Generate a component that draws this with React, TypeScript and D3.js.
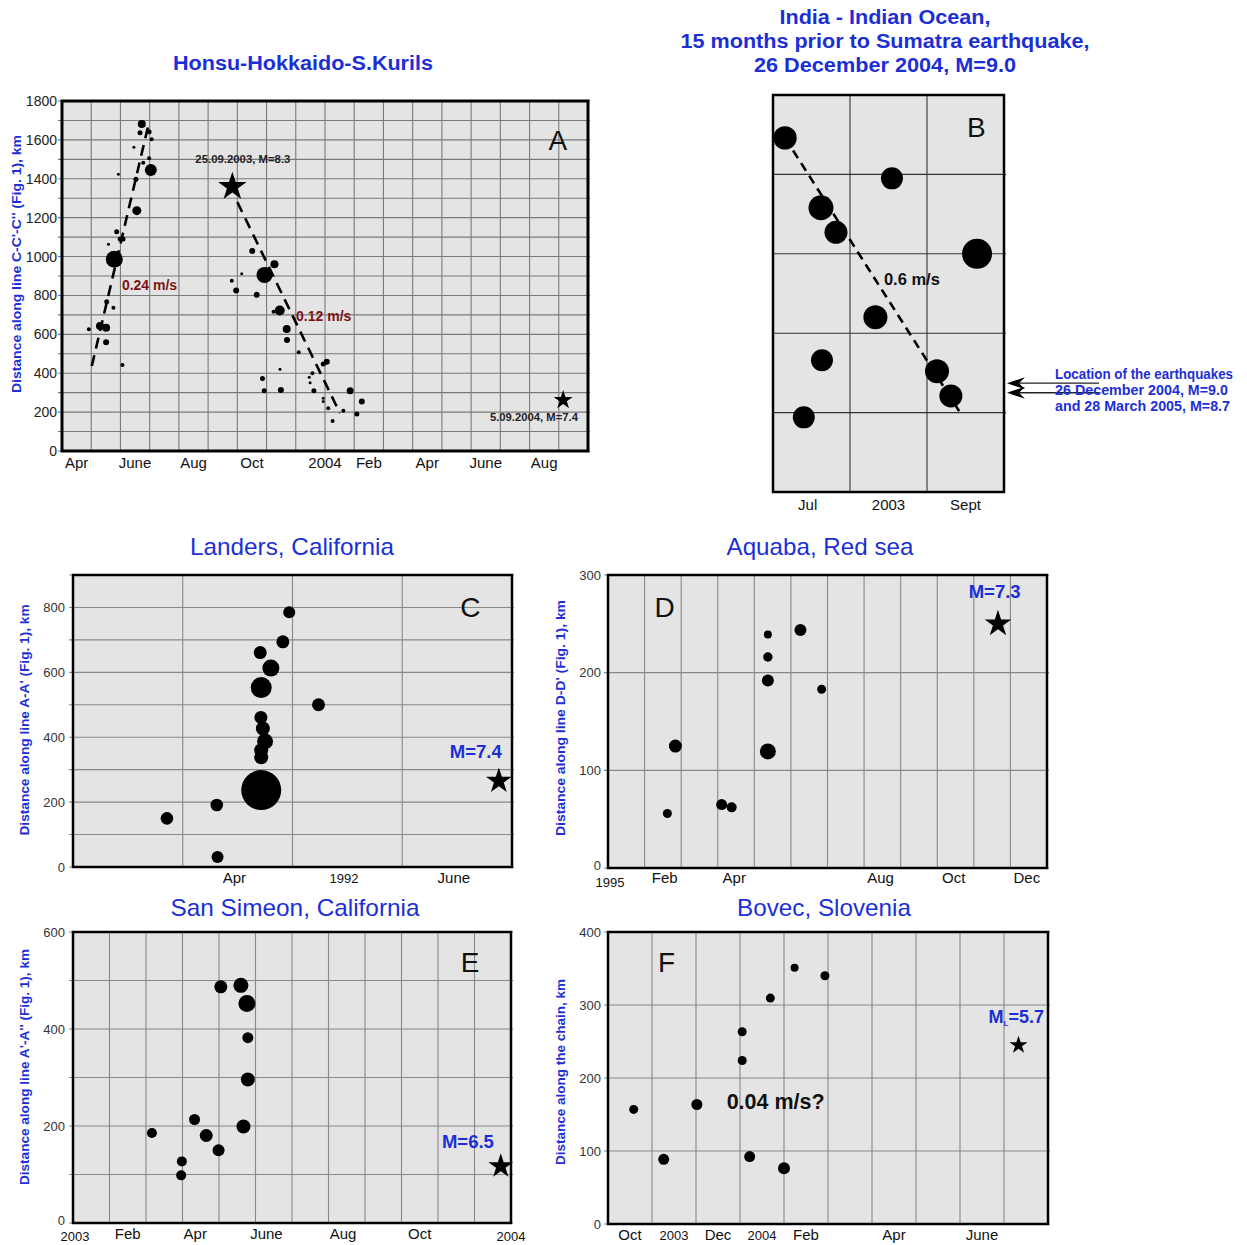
import React from "react";
import * as d3 from "d3";

const FONT = "'Liberation Sans', Arial, Helvetica, sans-serif";
const BLUE = "#1c2fd6";
const DARKRED = "#7b1414";

// ---------- Panel A: Honsu-Hokkaido-S.Kurils (months since 1 Apr 2003, km) ----------
const aMonth = [
  2.73, 2.67, 2.98, 3.07, 2.46, 2.98, 2.78, 3.04, 1.93, 2.53, 2.56, 1.87, 1.99, 2.09, 1.59, 1.79,
  1.53, 1.76, 1.3, 1.51, 0.92, 1.51, 2.07,
  6.51, 6.15, 5.81, 5.96, 6.93, 7.27, 6.66, 7.45, 7.24, 7.69, 7.7, 8.1, 7.46, 6.86, 6.92, 7.49,
  9.06, 8.94, 8.57, 8.46, 8.49, 8.62, 9.86, 8.94, 10.26, 8.94, 9.11, 9.63, 10.09, 9.26,
];
const aKm = [
  1682, 1637, 1642, 1603, 1562, 1505, 1483, 1445, 1423, 1397, 1236, 1128, 1090, 1090, 1063, 986,
  768, 737, 643, 634, 626, 559, 442,
  1029, 912, 876, 826, 905, 960, 803, 723, 716, 627, 571, 508, 420, 373, 310, 314,
  459, 447, 400, 379, 351, 310, 310, 271, 254, 254, 220, 207, 190, 154,
];
const aSize = [
  4, 2.5, 2.5, 2, 1.5, 2, 2, 6, 1.5, 2.5, 4.5, 2.5, 2.5, 2.5, 1.5, 8.5,
  2.5, 2, 4, 4, 2, 3, 2,
  3, 1.5, 2, 3, 8, 4, 3, 5, 2, 4, 3, 2, 1.5, 2.5, 2.5, 3,
  3, 2.5, 2, 1.5, 1.5, 2.5, 3.5, 1.5, 3, 1.5, 2, 2, 2.5, 2,
];
const aStarMonth = [5.83, 17.15];
const aStarKm = [1359, 262];
const aStarSize = [15, 10];
const aStarLabels = ["25.09.2003, M=8.3", "5.09.2004, M=7.4"];
const aTrendMonth = [[1.02, 2.98], [6.0, 9.51]];
const aTrendKm = [[437, 1692], [1280, 195]];
const aSpeedLabels = ["0.24 m/s", "0.12 m/s"];
const aYTicks = [0, 200, 400, 600, 800, 1000, 1200, 1400, 1600, 1800];
const aXLabels = ["Apr", "June", "Aug", "Oct", "2004", "Feb", "Apr", "June", "Aug"];
const aXLabelPos = [0.5, 2.5, 4.5, 6.5, 9, 10.5, 12.5, 14.5, 16.5];

// ---------- Panel B: India - Indian Ocean ----------
const bMonth = [0.156, 1.545, 0.623, 0.818, 2.65, 1.33, 0.636, 2.13, 2.31, 0.4];
const bDist = [446, 395, 358, 327, 300, 220, 166, 152, 121, 94];
const bSize = [11.7, 11, 12.5, 11.5, 15, 12, 11, 12, 11.5, 11];
const bTrendMonth = [0.156, 2.43];
const bTrendDist = [446, 100];
const bQuakeDist = [137, 125];
const bQuakeText = ["Location of the earthquakes", "26 December 2004, M=9.0", "and 28 March 2005, M=8.7"];
const bXLabels = ["Jul", "2003", "Sept"];
const bXLabelPos = [0.45, 1.5, 2.5];
const bTitle = ["India - Indian Ocean,", "15 months prior to Sumatra earthquake,", "26 December 2004, M=9.0"];

// ---------- Panel C: Landers ----------
const cTime = [0.856, 1.31, 1.317, 1.706, 1.803, 1.715, 1.912, 1.97, 2.237, 1.712, 1.73, 1.75, 1.715, 1.715, 1.715];
const cKm = [150, 191, 31, 661, 613, 553, 694, 785, 500, 461, 427, 387, 360, 338, 237];
const cSize = [6.3, 6.3, 6, 6.5, 8.5, 10.5, 6.5, 6, 6.5, 6.5, 7, 8, 7, 7, 20];
const cStar = [3.88, 265];
const cYTicks = [0, 200, 400, 600, 800];
const cXLabels = ["Apr", "1992", "June"];
const cXLabelPos = [1.47, 2.47, 3.47];

// ---------- Panel D: Aquaba ----------
const dMonth = [1.623, 1.842, 3.107, 3.38, 4.37, 4.37, 4.37, 4.37, 5.26, 5.84];
const dKm = [55.8, 124.8, 64.9, 62.1, 239, 216, 192, 119.4, 243.7, 183];
const dSize = [4.5, 6.5, 5.5, 5, 4, 4.7, 6, 8, 6, 4.5];
const dStar = [10.66, 250];
const dYTicks = [0, 100, 200, 300];
const dXLabels = ["1995", "Feb", "Apr", "Aug", "Oct", "Dec"];
const dXLabelPos = [0, 1.55, 3.45, 7.45, 9.45, 11.45];

// ---------- Panel E: San Simeon ----------
const eMonth = [2.163, 2.982, 2.963, 3.33, 3.65, 3.988, 4.05, 4.6, 4.765, 4.79, 4.79, 4.67];
const eKm = [185.6, 127, 98.2, 213.4, 180.4, 150, 487, 490, 452.5, 382, 296, 199];
const eSize = [5, 5, 5, 5.5, 6.5, 6, 6.5, 7.5, 8.5, 5.5, 7, 7];
const eStar = [11.72, 117];
const eYTicks = [0, 200, 400, 600];
const eXLabels = ["2003", "Feb", "Apr", "June", "Aug", "Oct", "2004"];
const eXLabelPos = [0, 1.5, 3.35, 5.3, 7.4, 9.5, 12];

// ---------- Panel F: Bovec ----------
const fMonth = [0.584, 1.266, 2.02, 3.05, 3.05, 3.22, 3.69, 4.0, 4.24, 4.93];
const fKm = [157, 88.6, 163.7, 263.3, 224, 92.3, 309.5, 76.3, 351, 340];
const fSize = [4.5, 5.5, 5.5, 4.5, 4.5, 5.5, 4.5, 6, 4, 4.5];
const fStar = [9.33, 245];
const fYTicks = [0, 100, 200, 300, 400];
const fXLabels = ["Oct", "2003", "Dec", "2004", "Feb", "Apr", "June"];
const fXLabelPos = [0.5, 1.5, 2.5, 3.5, 4.5, 6.5, 8.5];

const sizeScale = d3.scaleLinear().domain([0, 10]).range([0, 10]);

function starPath(outerR: number) {
  return d3.symbol(d3.symbolStar, (outerR * outerR) / 0.8908130915292852)() as string;
}

type S = d3.ScaleLinear<number, number>;

function GridBox({ x, y, xLines, yLines, gridColor, tickLen = 4 }: {
  x: S; y: S; xLines: number[]; yLines: number[]; gridColor: string; tickLen?: number;
}) {
  const [x0, x1] = x.range();
  const [y0, y1] = y.range();
  return (
    <g>
      <rect x={x0} y={y1} width={x1 - x0} height={y0 - y1} fill="#e4e4e4" />
      {xLines.map((v, i) => (
        <line key={"vx" + i} x1={x(v)} x2={x(v)} y1={y1} y2={y0} stroke={gridColor} strokeWidth={1.1} />
      ))}
      {yLines.map((v, i) => (
        <line key={"hy" + i} x1={x0 - tickLen} x2={x1 + 2} y1={y(v)} y2={y(v)} stroke={gridColor} strokeWidth={1.1} />
      ))}
    </g>
  );
}

function Frame({ x, y, w }: { x: S; y: S; w: number }) {
  const [x0, x1] = x.range();
  const [y0, y1] = y.range();
  return <rect x={x0} y={y1} width={x1 - x0} height={y0 - y1} fill="none" stroke="#000" strokeWidth={w} />;
}

function Dots({ x, y, xs, ys, ss }: { x: S; y: S; xs: number[]; ys: number[]; ss: number[] }) {
  return (
    <g>
      {xs.map((v, i) => (
        <circle key={i} cx={x(v)} cy={y(ys[i])} r={sizeScale(ss[i])} fill="#000" />
      ))}
    </g>
  );
}

function YTicks({ x, y, ticks, size, color, dx = 5, zeroLift = 0 }: {
  x: S; y: S; ticks: number[]; size: number; color: string; dx?: number; zeroLift?: number;
}) {
  const x0 = x.range()[0];
  return (
    <g>
      {ticks.map((t) => (
        <text key={t} x={x0 - dx} y={y(t) + size * 0.36 - (t === 0 ? zeroLift : 0)} textAnchor="end" fontSize={size} fill={color} fontFamily={FONT}>
          {t}
        </text>
      ))}
    </g>
  );
}

function XLabels({ x, y, labels, pos, base, size, yearSize, edgeDrop = 0 }: {
  x: S; y: S; labels: string[]; pos: number[]; base: number; size: number; yearSize: number; edgeDrop?: number;
}) {
  const y0 = y.range()[0];
  const [d0, d1] = x.domain();
  return (
    <g>
      {labels.map((l, i) => {
        const edge = pos[i] === d0 || pos[i] === d1;
        return (
          <text key={i} x={x(pos[i]) + (pos[i] === d0 && edgeDrop ? 2 : 0)} y={y0 + base + (edge ? edgeDrop : 0)} textAnchor="middle"
            fontSize={/^\d+$/.test(l) ? yearSize : size} fill="#111" fontFamily={FONT}>
            {l}
          </text>
        );
      })}
    </g>
  );
}

function YTitle({ cx, cy, text, len }: { cx: number; cy: number; text: string; len: number }) {
  return (
    <text
      transform={`translate(${cx},${cy}) rotate(-90)`}
      textAnchor="middle"
      dominantBaseline="central"
      fontSize={13}
      fontWeight="bold"
      fill={BLUE}
      fontFamily={FONT}
      textLength={len}
      lengthAdjust="spacingAndGlyphs"
    >
      {text}
    </text>
  );
}

function Title({ x, y, text, len }: { x: number; y: number; text: string; len: number }) {
  return (
    <text x={x} y={y} textAnchor="middle" fontSize={24} fill={BLUE} textLength={len} lengthAdjust="spacingAndGlyphs">
      {text}
    </text>
  );
}

export default function App() {
  // Panel A
  const ax = d3.scaleLinear().domain([0, 18]).range([62, 588]);
  const ay = d3.scaleLinear().domain([0, 1800]).range([451, 101]);
  const line = d3.line<[number, number]>();

  // Panel B
  const bx = d3.scaleLinear().domain([0, 3]).range([773, 1004]);
  const by = d3.scaleLinear().domain([0, 500]).range([492, 95]);

  // Panel C
  const cx = d3.scaleLinear().domain([0, 4]).range([73, 512]);
  const cy = d3.scaleLinear().domain([0, 900]).range([867, 575]);

  // Panel D
  const dx = d3.scaleLinear().domain([0, 12]).range([608, 1047]);
  const dy = d3.scaleLinear().domain([0, 300]).range([868, 575]);

  // Panel E
  const ex = d3.scaleLinear().domain([0, 12]).range([73, 511]);
  const ey = d3.scaleLinear().domain([0, 600]).range([1223, 932]);

  // Panel F
  const fx = d3.scaleLinear().domain([0, 10]).range([608, 1048]);
  const fy = d3.scaleLinear().domain([0, 400]).range([1224, 932]);

  const monthsA = d3.range(1, 18);
  const kmA = d3.range(100, 1800, 100);

  return (
    <svg width={1247} height={1245} style={{ position: "absolute", left: 0, top: 0, background: "#fff" }} fontFamily={FONT}>
      <rect x={0} y={0} width={1247} height={1245} fill="#fff" />

      {/* ===== Panel A ===== */}
      <text x={303} y={70} textAnchor="middle" fontSize={20} fontWeight="bold" fill={BLUE} textLength={260} lengthAdjust="spacingAndGlyphs">
        Honsu-Hokkaido-S.Kurils
      </text>
      <GridBox x={ax} y={ay} xLines={monthsA} yLines={[...kmA, 0, 1800]} gridColor="#7a7a7a" />
      {aTrendMonth.map((ms, i) => (
        <path key={i} d={line([[ax(ms[0]), ay(aTrendKm[i][0])], [ax(ms[1]), ay(aTrendKm[i][1])]]) as string}
          stroke="#000" strokeWidth={2.6} strokeDasharray="11 7" fill="none" />
      ))}
      <Dots x={ax} y={ay} xs={aMonth} ys={aKm} ss={aSize} />
      {aStarMonth.map((m, i) => (
        <path key={i} d={starPath(aStarSize[i])} transform={`translate(${ax(m)},${ay(aStarKm[i])})`} fill="#000" />
      ))}
      <text x={ax(6.19)} y={ay(1481)} textAnchor="middle" fontSize={11} fontWeight="bold" fill="#222" textLength={95} lengthAdjust="spacingAndGlyphs">{aStarLabels[0]}</text>
      <text x={ax(16.15)} y={ay(154)} textAnchor="middle" fontSize={11} fontWeight="bold" fill="#222" textLength={88} lengthAdjust="spacingAndGlyphs">{aStarLabels[1]}</text>
      <text x={ax(2.05)} y={ay(828)} fontSize={14} fontWeight="bold" fill={DARKRED}>{aSpeedLabels[0]}</text>
      <text x={ax(8.01)} y={ay(669)} fontSize={14} fontWeight="bold" fill={DARKRED}>{aSpeedLabels[1]}</text>
      <text x={ax(16.97)} y={ay(1548)} textAnchor="middle" fontSize={28} fill="#111">A</text>
      <Frame x={ax} y={ay} w={3} />
      <YTicks x={ax} y={ay} ticks={aYTicks} size={14} color="#222" dx={5} />
      <XLabels x={ax} y={ay} labels={aXLabels} pos={aXLabelPos} base={17} size={15} yearSize={15} />
      <YTitle cx={16} cy={264} text={"Distance along line C-C'-C'' (Fig. 1), km"} len={258} />

      {/* ===== Panel B ===== */}
      {bTitle.map((t, i) => (
        <text key={i} x={885} y={24 + i * 24} textAnchor="middle" fontSize={20} fontWeight="bold" fill={BLUE}
          textLength={[211, 409, 262][i]} lengthAdjust="spacingAndGlyphs">{t}</text>
      ))}
      <GridBox x={bx} y={by} xLines={[1, 2]} yLines={[100, 200, 300, 400]} gridColor="#333" tickLen={0} />
      <path d={line([[bx(bTrendMonth[0]), by(bTrendDist[0])], [bx(bTrendMonth[1]), by(bTrendDist[1])]]) as string}
        stroke="#000" strokeWidth={2.6} strokeDasharray="9 6" fill="none" />
      <Dots x={bx} y={by} xs={bMonth} ys={bDist} ss={bSize} />
      <text x={bx(1.44)} y={by(261)} fontSize={16.5} fontWeight="bold" fill="#111">0.6 m/s</text>
      <text x={bx(2.64)} y={by(447)} textAnchor="middle" fontSize={28} fill="#111">B</text>
      <Frame x={bx} y={by} w={2.5} />
      <XLabels x={bx} y={by} labels={bXLabels} pos={bXLabelPos} base={18} size={15} yearSize={15} />
      {bQuakeDist.map((d, i) => {
        const tip = bx(3) + 3;
        const yy = by(d);
        return (
          <g key={i}>
            <line x1={tip + 8} x2={tip + 92} y1={yy} y2={yy} stroke="#222" strokeWidth={1.3} />
            <path d={`M${tip},${yy} L${tip + 18},${yy - 6} L${tip + 12},${yy} L${tip + 18},${yy + 6} Z`} fill="#000" />
          </g>
        );
      })}
      {bQuakeText.map((t, i) => (
        <text key={i} x={1055} y={379 + i * 16} fontSize={14} fontWeight="bold" fill={BLUE}
          textLength={[178, 173, 175][i]} lengthAdjust="spacingAndGlyphs">{t}</text>
      ))}

      {/* ===== Panel C ===== */}
      <Title x={292} y={555} text="Landers, California" len={204} />
      <GridBox x={cx} y={cy} xLines={[1, 2, 3]} yLines={d3.range(0, 901, 100)} gridColor="#888" />
      <Dots x={cx} y={cy} xs={cTime} ys={cKm} ss={cSize} />
      <path d={starPath(13.5)} transform={`translate(${cx(cStar[0])},${cy(cStar[1])})`} fill="#000" />
      <text x={cx(3.67)} y={cy(335)} textAnchor="middle" fontSize={18.5} fontWeight="bold" fill={BLUE}>M=7.4</text>
      <text x={cx(3.62)} y={cy(772)} textAnchor="middle" fontSize={28} fill="#111">C</text>
      <Frame x={cx} y={cy} w={2.5} />
      <YTicks x={cx} y={cy} ticks={cYTicks} size={13} color="#333" dx={8} />
      <XLabels x={cx} y={cy} labels={cXLabels} pos={cXLabelPos} base={16} size={15} yearSize={13} />
      <YTitle cx={24} cy={720} text={"Distance along line A-A' (Fig. 1), km"} len={231} />

      {/* ===== Panel D ===== */}
      <Title x={820} y={555} text="Aquaba, Red sea" len={187} />
      <GridBox x={dx} y={dy} xLines={d3.range(1, 12)} yLines={[0, 100, 200, 300]} gridColor="#888" />
      <Dots x={dx} y={dy} xs={dMonth} ys={dKm} ss={dSize} />
      <path d={starPath(14)} transform={`translate(${dx(dStar[0])},${dy(dStar[1])})`} fill="#000" />
      <text x={dx(10.57)} y={dy(276)} textAnchor="middle" fontSize={18.5} fontWeight="bold" fill={BLUE}>M=7.3</text>
      <text x={dx(1.55)} y={dy(257)} textAnchor="middle" fontSize={28} fill="#111">D</text>
      <Frame x={dx} y={dy} w={2.5} />
      <YTicks x={dx} y={dy} ticks={dYTicks} size={13} color="#333" dx={7} zeroLift={3} />
      <XLabels x={dx} y={dy} labels={dXLabels} pos={dXLabelPos} base={15} size={15} yearSize={13} edgeDrop={4} />
      <YTitle cx={560} cy={718} text={"Distance along line D-D' (Fig. 1), km"} len={236} />

      {/* ===== Panel E ===== */}
      <Title x={295} y={916} text="San Simeon, California" len={249} />
      <GridBox x={ex} y={ey} xLines={d3.range(1, 12)} yLines={d3.range(0, 601, 100)} gridColor="#888" />
      <Dots x={ex} y={ey} xs={eMonth} ys={eKm} ss={eSize} />
      <path d={starPath(13)} transform={`translate(${ex(eStar[0])},${ey(eStar[1])})`} fill="#000" />
      <text x={ex(10.82)} y={ey(155)} textAnchor="middle" fontSize={18.5} fontWeight="bold" fill={BLUE}>M=6.5</text>
      <text x={ex(10.88)} y={ey(518)} textAnchor="middle" fontSize={28} fill="#111">E</text>
      <Frame x={ex} y={ey} w={2.5} />
      <YTicks x={ex} y={ey} ticks={eYTicks} size={13} color="#333" dx={8} zeroLift={3} />
      <XLabels x={ex} y={ey} labels={eXLabels} pos={eXLabelPos} base={16} size={15} yearSize={13} edgeDrop={2} />
      <YTitle cx={24} cy={1067} text={"Distance along line A'-A'' (Fig. 1), km"} len={236} />

      {/* ===== Panel F ===== */}
      <Title x={824} y={916} text="Bovec, Slovenia" len={174} />
      <GridBox x={fx} y={fy} xLines={d3.range(1, 10)} yLines={d3.range(0, 401, 100)} gridColor="#888" />
      <Dots x={fx} y={fy} xs={fMonth} ys={fKm} ss={fSize} />
      <path d={starPath(9.5)} transform={`translate(${fx(fStar[0])},${fy(fStar[1])})`} fill="#000" />
      <text x={fx(9.28)} y={fy(275)} textAnchor="middle" fontSize={18} fontWeight="bold" fill={BLUE}>
        M<tspan fontSize={8} dy={3}>L</tspan><tspan dy={-3}>=5.7</tspan>
      </text>
      <text x={fx(3.81)} y={fy(157.5)} textAnchor="middle" fontSize={21.5} fontWeight="bold" fill="#111">0.04 m/s?</text>
      <text x={fx(1.33)} y={fy(345)} textAnchor="middle" fontSize={28} fill="#111">F</text>
      <Frame x={fx} y={fy} w={2.5} />
      <YTicks x={fx} y={fy} ticks={fYTicks} size={13} color="#333" dx={7} />
      <XLabels x={fx} y={fy} labels={fXLabels} pos={fXLabelPos} base={16} size={15} yearSize={13} />
      <YTitle cx={560} cy={1072} text={"Distance along the chain, km"} len={186} />
    </svg>
  );
}
